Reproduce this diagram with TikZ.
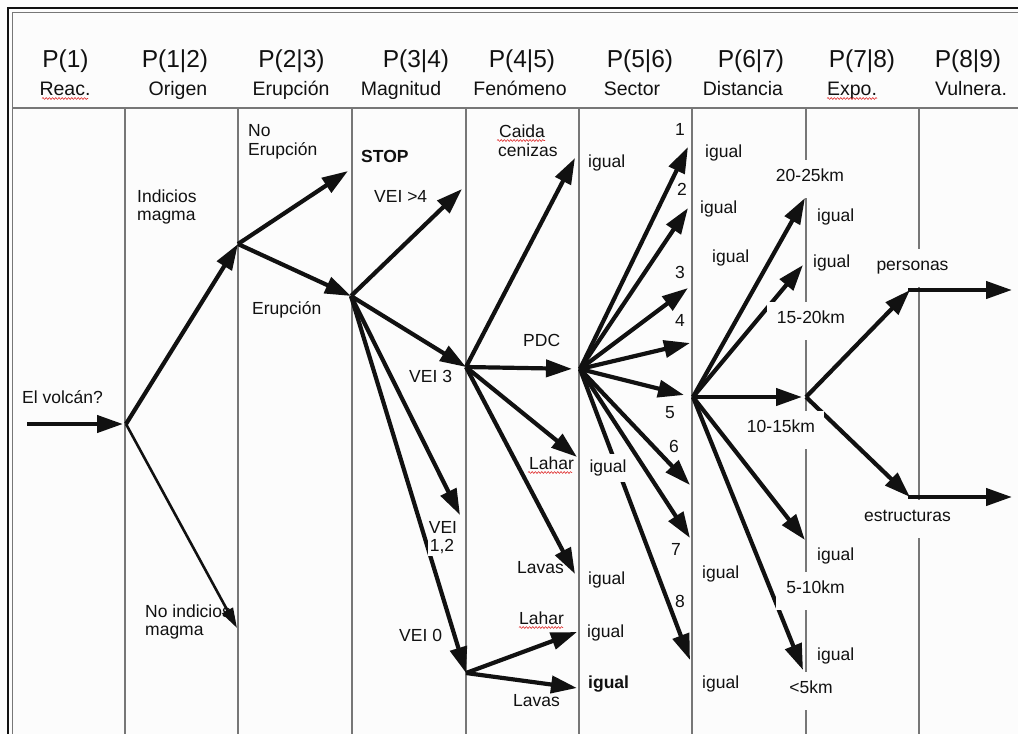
\documentclass[tikz,border=0pt]{standalone}
\usepackage{fontspec}
\setmainfont{Liberation Sans}
\usetikzlibrary{arrows.meta,decorations.pathmorphing}
\definecolor{paper}{HTML}{FCFCFC}
\definecolor{ink}{HTML}{111111}
\definecolor{rule}{HTML}{777777}
\definecolor{spell}{HTML}{E03030}
\begin{document}
\begin{tikzpicture}[x=1pt,y=-1pt,
  hdr/.style={font=\fontsize{24.5}{28}\selectfont, text=ink, anchor=base, inner sep=0pt},
  sub/.style={font=\fontsize{19.5}{22}\selectfont, text=ink, anchor=base, inner sep=0pt},
  lbl/.style={font=\fontsize{17.5}{19}\selectfont, text=ink, anchor=base west, inner sep=0pt},
  gapbox/.style={font=\fontsize{17.5}{19}\selectfont, text=ink, anchor=base, fill=paper,
    text height=12.5pt, text depth=8pt, inner ysep=8.5pt, inner xsep=10pt},
  cover/.style={font=\fontsize{17.5}{19}\selectfont, text=ink, anchor=base, fill=paper,
    text height=12.5pt, text depth=4pt, inner ysep=6pt, inner xsep=3pt},
  arr/.style={draw=ink, line width=4.2pt, -{Triangle[length=26pt,width=17pt]}},
  thinarr/.style={draw=ink, line width=2.6pt, -{Triangle[length=20pt,width=12pt]}},
  grid/.style={draw=rule, line width=1.4pt},
  wavy/.style={draw=spell, line width=0.6pt, decorate,
    decoration={snake, amplitude=0.9pt, segment length=3.2pt}}
]
\path[use as bounding box] (0,0) rectangle (1018,734);
\clip (0,0) rectangle (1018,734);
\fill[paper] (0,0) rectangle (1018,734);

% double frame and header rule
\draw[ink, line width=1.3pt] (8,740) -- (8,8) -- (1030,8);
\draw[rule, line width=1pt] (12,740) -- (12,12) -- (1030,12);
\draw[grid, line width=2pt] (12,108) -- (1030,108);
\foreach \x in {125,238,352,466,579,692,806,919}
  \draw[grid] (\x,108) -- (\x,740);

% column headers
\node[hdr] (h1) at (65.5,67) {P(1)};
\node[hdr] (h2) at (175,67) {P(1|2)};
\node[hdr] (h3) at (291.5,67) {P(2|3)};
\node[hdr] (h4) at (416,67) {P(3|4)};
\node[hdr] (h5) at (522,67) {P(4|5)};
\node[hdr] (h6) at (640,67) {P(5|6)};
\node[hdr] (h7) at (751,67) {P(6|7)};
\node[hdr] (h8) at (862,67) {P(7|8)};
\node[hdr] (h9) at (968,67) {P(8|9)};
\node[sub] (s1) at (65,95) {Reac.};
\node[sub] (s2) at (178,95) {Origen};
\node[sub] (s3) at (291,95) {Erupción};
\node[sub] (s4) at (401,95) {Magnitud};
\node[sub] (s5) at (520,95) {Fenómeno};
\node[sub] (s6) at (632,95) {Sector};
\node[sub] (s7) at (743,95) {Distancia};
\node[sub] (s8) at (852,95) {Expo.};
\node[sub] (s9) at (971,95) {Vulnera.};

% branch points and arrow ends
\coordinate (in) at (27,424);
\coordinate (A) at (126,424);
\coordinate (B) at (238,244);
\coordinate (nomag) at (237,628);
\coordinate (noer) at (348,171);
\coordinate (C) at (351,296);
\coordinate (vei4) at (462,189);
\coordinate (D) at (466,367);
\coordinate (vei12) at (460,515);
\coordinate (E) at (466,673);
\coordinate (ash) at (575,158);
\coordinate (F) at (580,369);
\coordinate (lahar1) at (577,457);
\coordinate (lavas1) at (575,574);
\coordinate (lahar2) at (577,632);
\coordinate (lavas2) at (577,688);
\coordinate (t1) at (688,147);
\coordinate (t2) at (688,208);
\coordinate (t3) at (688,288);
\coordinate (t4) at (690,343);
\coordinate (t5) at (684,395);
\coordinate (t6) at (690,485);
\coordinate (t7) at (690,538);
\coordinate (t8) at (690,660);
\coordinate (G) at (693,397);
\coordinate (d1) at (805,198);
\coordinate (d2) at (803,265);
\coordinate (H) at (806,397);
\coordinate (d4) at (805,540);
\coordinate (d5) at (803,670);
\coordinate (P) at (910,290);
\coordinate (Pout) at (1012,290);
\coordinate (S) at (910,497);
\coordinate (Sout) at (1012,497);

% labels that open gaps in the column rules
\node[gapbox] (km2025) at (810,181) {20-25km};
\node[gapbox] (km5) at (811,693) {<5km};
\node[gapbox] (pers) at (912.5,270) {personas};
\node[gapbox] (estr) at (907.5,521) {estructuras};

% plain labels
\node[lbl] (volcan) at (22,403) {El volcán?};
\node[lbl] (ind1) at (137,202) {Indicios};
\node[lbl] (ind2) at (137,220) {magma};
\node[lbl] (noind1) at (145,617) {No indicios};
\node[lbl] (noind2) at (145,635) {magma};
\node[lbl] (noer1) at (248,136) {No};
\node[lbl] (noer2) at (248,155) {Erupción};
\node[lbl] (erup) at (252,314) {Erupción};
\node[lbl, font=\bfseries\fontsize{17.5}{19}\selectfont] (stop) at (361,162) {STOP};
\node[lbl] (v4) at (374,202) {VEI >4};
\node[lbl] (v3) at (409,382) {VEI 3};
\node[lbl] (v0) at (399,641) {VEI 0};
\node[lbl] (caida) at (499,137) {Caida};
\node[lbl] (ceniz) at (498,156) {cenizas};
\node[lbl] (pdc) at (523,346) {PDC};
\node[lbl] (lah1) at (529,469) {Lahar};
\node[lbl] (lav1) at (517,573) {Lavas};
\node[lbl] (lah2) at (519,624) {Lahar};
\node[lbl] (lav2) at (513,706) {Lavas};
\node[lbl] (ig1) at (588,167) {igual};
\node[lbl] (ig3) at (588,584) {igual};
\node[lbl] (ig4) at (587,637) {igual};
\node[lbl, font=\bfseries\fontsize{17.5}{19}\selectfont] (ig5) at (588,688) {igual};
\node[lbl] (n1) at (675,135) {1};
\node[lbl] (n2) at (677,195) {2};
\node[lbl] (n3) at (675,278) {3};
\node[lbl] (n4) at (675,326) {4};
\node[lbl] (n5) at (665,418) {5};
\node[lbl] (n6) at (669,452) {6};
\node[lbl] (n7) at (671,555) {7};
\node[lbl] (n8) at (675,607) {8};
\node[lbl] (dg1) at (705,157) {igual};
\node[lbl] (dg2) at (700,213) {igual};
\node[lbl] (dg3) at (712,262) {igual};
\node[lbl] (dg4) at (702,578) {igual};
\node[lbl] (dg5) at (702,688) {igual};
\node[lbl] (eg1) at (817,221) {igual};
\node[lbl] (eg2) at (813,267) {igual};
\node[lbl] (eg3) at (817,560) {igual};
\node[lbl] (eg4) at (817,660) {igual};

% event tree
\draw[arr, shorten >=3pt] (in) -- (A);
\draw[arr] (A) -- (B);
\draw[thinarr] (A) -- (nomag);
\draw[arr] (B) -- (noer);
\draw[arr] (B) -- (C);
\draw[arr] (C) -- (vei4);
\draw[arr] (C) -- (D);
\draw[arr] (C) -- (vei12);
\draw[arr] (C) -- (E);
\draw[arr] (D) -- (ash);
\draw[arr, shorten >=8pt] (D) -- (F);
\draw[arr] (D) -- (lahar1);
\draw[arr] (D) -- (lavas1);
\draw[arr] (E) -- (lahar2);
\draw[arr] (E) -- (lavas2);
\foreach \t in {t1,t2,t3,t4,t5,t6,t7,t8}
  \draw[arr] (F) -- (\t);
\draw[arr] (G) -- (d1);
\draw[arr] (G) -- (d2);
\draw[arr, shorten >=4pt] (G) -- (H);
\draw[arr] (G) -- (d4);
\draw[arr] (G) -- (d5);
\draw[arr] (H) -- (P);
\draw[arr] (H) -- (S);
\draw[arr, shorten <=-2pt] (P) -- (Pout);
\draw[arr, shorten <=-2pt] (S) -- (Sout);

% labels laid over the arrows
\node[cover, inner xsep=10pt, text depth=8pt, inner ysep=8.5pt] (km1520) at (811,323) {15-20km};
\node[cover, inner xsep=9pt, text depth=8pt, inner ysep=8.5pt] (km1015) at (781,432) {10-15km};
\node[cover, inner xsep=10pt, text depth=8pt, inner ysep=8.5pt] (km510) at (815.5,593) {5-10km};
\node[cover] (ig2) at (608,472) {igual};
\node[cover, inner sep=1.5pt, text depth=3pt] (vei1) at (443,533) {VEI};
\node[cover, inner sep=1.5pt, text depth=3pt] (vei2) at (442,551) {1,2};

% spelling marks
\draw[wavy] (42,98.5) -- (88,98.5);
\draw[wavy] (827,98.5) -- (877,98.5);
\draw[wavy] (497,140.5) -- (545,140.5);
\draw[wavy] (528,472.5) -- (572,472.5);
\draw[wavy] (519,627.5) -- (563,627.5);
\end{tikzpicture}
\end{document}
